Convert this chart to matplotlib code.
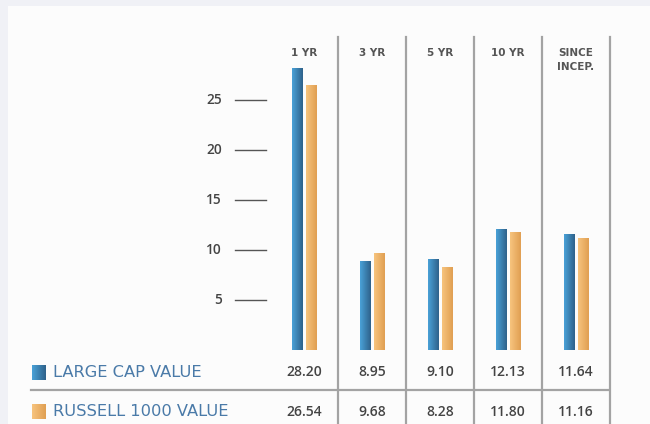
import numpy as np
import matplotlib
matplotlib.use("Agg")
import matplotlib.pyplot as plt
from matplotlib.patches import Rectangle
from matplotlib.lines import Line2D
from matplotlib.colors import LinearSegmentedColormap
import matplotlib.transforms as mtransforms

periods = ["1 YR", "3 YR", "5 YR", "10 YR", "SINCE\nINCEP."]
series_names = ["LARGE CAP VALUE", "RUSSELL 1000 VALUE"]
large_cap = [28.20, 8.95, 9.10, 12.13, 11.64]
russell = [26.54, 9.68, 8.28, 11.80, 11.16]
yticks = [5, 10, 15, 20, 25]

W, H = 650, 424
fig = plt.figure(figsize=(W / 100, H / 100), dpi=100)
fig.patch.set_facecolor("#f0f1f6")
plt.rcParams["font.family"] = ["Open Sans", "DejaVu Sans"]

# white panel
fig.patches.append(Rectangle((8 / W, 0), 1, (H - 6) / H, transform=fig.transFigure,
                             facecolor="#fcfcfc", edgecolor="none", zorder=-5))

def fx(px):
    return px / W

def fy(py):
    return 1 - py / H

ax_left, ax_right = 270, 610
ax_bottom, ax_top = 350, 50
ax = fig.add_axes([fx(ax_left), fy(ax_bottom), (ax_right - ax_left) / W, (ax_bottom - ax_top) / H])
ax.patch.set_alpha(0)
ax.axis("off")

blue_cmap = LinearSegmentedColormap.from_list("b", ["#4aa2d8", "#2e618a"])
orange_cmap = LinearSegmentedColormap.from_list("o", ["#f7c47e", "#e09f52"])

x = np.arange(len(periods))
bw = 11 / 68
off = 7 / 68
grad = np.linspace(0, 1, 64).reshape(1, -1)
for vals, sign, cmap in [(large_cap, -1, blue_cmap), (russell, 1, orange_cmap)]:
    bars = ax.bar(x + sign * off, vals, width=bw, color="none", edgecolor="none")
    for b in bars:
        x0, y0 = b.get_x(), b.get_y()
        w, h = b.get_width(), b.get_height()
        im = ax.imshow(grad, cmap=cmap, aspect="auto", extent=(x0, x0 + w, y0, y0 + h),
                       interpolation="bicubic", zorder=2)
        im.set_clip_path(b)
ax.set_xlim(-0.5, 4.5)
ax.set_ylim(0, 30)

# column dividers
trans_xd_yf = mtransforms.blended_transform_factory(ax.transData, fig.transFigure)
for xi in x + 0.5:
    fig.add_artist(Line2D([xi, xi], [fy(37), 0], transform=trans_xd_yf,
                          color="#a3a3a3", lw=1.6))

# y ticks
trans_xf_yd = mtransforms.blended_transform_factory(fig.transFigure, ax.transData)
for t in yticks:
    fig.add_artist(Line2D([fx(235), fx(266)], [t, t], transform=trans_xf_yd,
                          color="#555555", lw=1.0))
    fig.text(fx(222), t, str(t), transform=trans_xf_yd, ha="right", va="center",
             fontsize=9.8, color="#444444", fontweight="semibold")

# header labels
for xi, p in zip(x, periods):
    for k, line in enumerate(p.split("\n")):
        fig.text(xi, fy(53 + 14.5 * k), line, transform=trans_xd_yf, ha="center",
                 va="center", fontsize=7.5, color="#555555", fontweight="bold",
                 family="DejaVu Sans")

# table rows
rows_y = [372.5, 411.5]
for ry, name, vals, cmap in zip(rows_y, series_names, [large_cap, russell], [blue_cmap, orange_cmap]):
    sq = fig.add_axes([fx(32), fy(ry + 7.5), 14 / W, 15 / H])
    sq.imshow(grad, cmap=cmap, aspect="auto", interpolation="bicubic")
    sq.axis("off")
    fig.text(fx(53), fy(ry), name, ha="left", va="center", fontsize=11.7,
             color="#4a7aa8", family="DejaVu Sans")
    for xi, v in zip(x, vals):
        fig.text(xi, fy(ry), f"{v:.2f}", transform=trans_xd_yf, ha="center",
                 va="center", fontsize=10, color="#444444", fontweight="semibold")

fig.add_artist(Line2D([fx(31), fx(609)], [fy(390), fy(390)], transform=fig.transFigure,
                      color="#a3a3a3", lw=1.6))

fig.savefig("out.png", dpi=100, facecolor=fig.get_facecolor())
